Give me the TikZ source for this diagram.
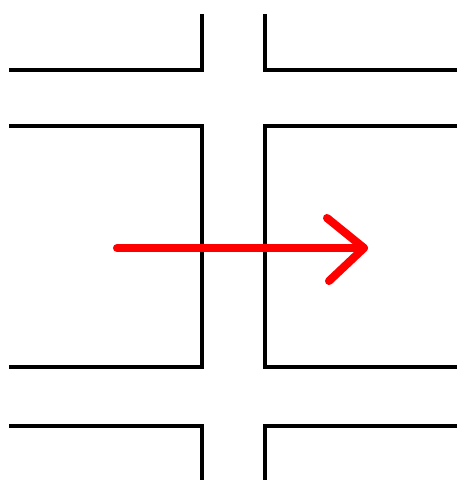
\documentclass[tikz,border=0pt]{standalone}
\usepackage{tikz}
\usetikzlibrary{calc}
\definecolor{arrowred}{RGB}{255,0,0}

\tikzset{
  street/.style={line width=2pt, line join=miter},
  moveline/.style={arrowred, line width=4.6pt, line cap=round, line join=round}
}

\begin{document}
\begin{tikzpicture}[x=0.02cm, y=-0.02cm]
  \useasboundingbox (0,0) rectangle (457,480);

  % top blocks
  \draw[street] (9,70) -- (202,70) -- (202,14);
  \draw[street] (457,70) -- (265,70) -- (265,14);

  % middle blocks
  \draw[street] (9,126) -- (202,126) -- (202,367) -- (9,367);
  \draw[street] (457,126) -- (265,126) -- (265,367) -- (457,367);

  % bottom blocks
  \draw[street] (9,426) -- (202,426) -- (202,480);
  \draw[street] (457,426) -- (265,426) -- (265,480);

  % direction of travel
  \coordinate (start) at (117,248);
  \coordinate (tip) at (364,248);
  \draw[moveline] (start) -- (tip);
  \draw[moveline] (327,218) -- (tip) -- (329,281);
\end{tikzpicture}
\end{document}
